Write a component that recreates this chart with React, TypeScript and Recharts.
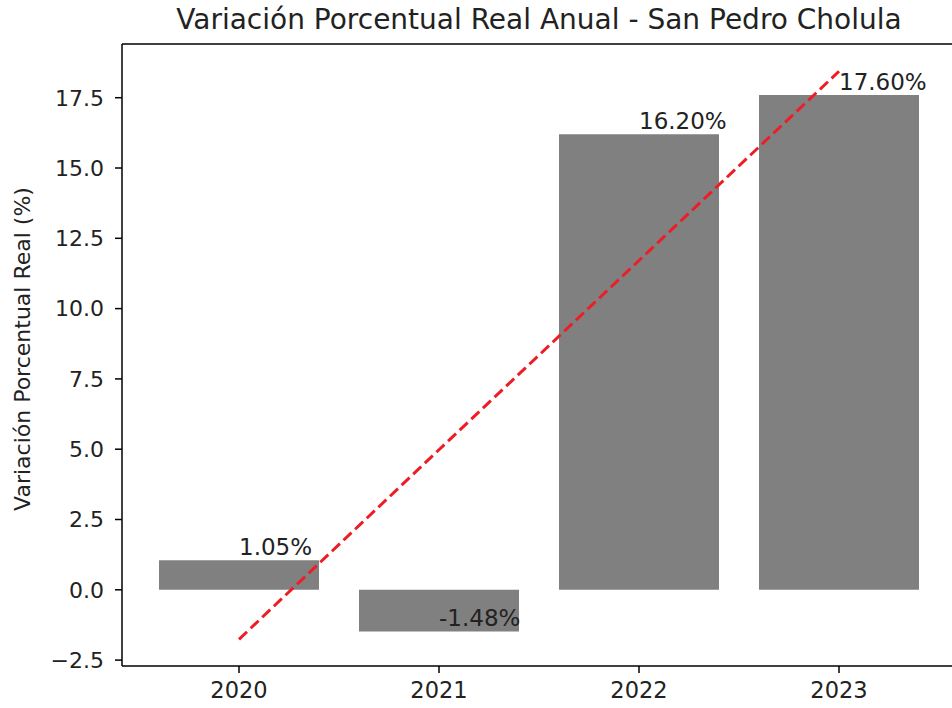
import React from "react";
import {
  ComposedChart,
  Bar,
  Line,
  XAxis,
  YAxis,
  LabelList,
  ReferenceLine,
} from "recharts";

const years = ["2020", "2021", "2022", "2023"];
const variation = [1.05, -1.48, 16.2, 17.6];
// dashed red trend line at each year
const trend = [-1.76, 4.98, 11.71, 18.44];
const yTicks = [-2.5, 0, 2.5, 5, 7.5, 10, 12.5, 15, 17.5];

const Y_MIN = -2.71;
const Y_MAX = 19.41;

const data = years.map((year, i) => ({
  year,
  value: variation[i],
  trend: trend[i],
}));

const FONT = "'DejaVu Sans', sans-serif";
const TEXT = "#222";

const fmtTick = (v: number) => {
  const s = Math.abs(v).toFixed(1);
  return v < 0 ? "\u2212" + s : s;
};

const ValueLabel = (props: any) => {
  const { x, y, width, height, value } = props;
  const top = Math.min(y, y + height);
  const bottom = Math.max(y, y + height);
  const yy = value >= 0 ? top : bottom;
  return (
    <text
      x={x + width / 2}
      y={yy - 5}
      textAnchor="start"
      fontSize={23}
      fontFamily={FONT}
      fill={TEXT}
    >
      {value.toFixed(2)}%
    </text>
  );
};

export default function App() {
  return (
    <div
      style={{
        position: "absolute",
        left: 0,
        top: 0,
        width: 952,
        height: 708,
        overflow: "hidden",
        background: "#fff",
      }}
    >
      <ComposedChart
        width={960}
        height={708}
        data={data}
        margin={{ top: 44, right: 4, bottom: 0, left: 0 }}
      >
        <text
          x={539}
          y={29}
          textAnchor="middle"
          fontSize={28}
          fontFamily={FONT}
          fill={TEXT}
        >
          Variación Porcentual Real Anual - San Pedro Cholula
        </text>
        <text
          x={30}
          y={349}
          transform="rotate(-90 30 349)"
          textAnchor="middle"
          fontSize={22}
          fontFamily={FONT}
          fill={TEXT}
        >
          Variación Porcentual Real (%)
        </text>
        <XAxis
          dataKey="year"
          height={42}
          padding={{ left: 17, right: 17 }}
          axisLine={{ stroke: "#000", strokeWidth: 1.5 }}
          tickLine={{ stroke: "#000", strokeWidth: 1.5 }}
          tickSize={7}
          tick={{ fontSize: 22.5, fontFamily: FONT, fill: TEXT, dy: 7 }}
        />
        <YAxis
          width={122}
          type="number"
          domain={[Y_MIN, Y_MAX]}
          ticks={yTicks}
          allowDataOverflow
          tickFormatter={fmtTick}
          axisLine={{ stroke: "#000", strokeWidth: 1.5 }}
          tickLine={{ stroke: "#000", strokeWidth: 1.5 }}
          tickSize={7}
          tick={{ fontSize: 22, fontFamily: FONT, fill: TEXT, dx: -9 }}
        />
        <ReferenceLine y={Y_MAX} stroke="#000" strokeWidth={1.5} />
        <Bar dataKey="value" fill="#808080" barSize={160} isAnimationActive={false}>
          <LabelList dataKey="value" content={<ValueLabel />} />
        </Bar>
        <Line
          dataKey="trend"
          type="linear"
          stroke="#ee1c25"
          strokeWidth={3}
          strokeDasharray="11 5"
          dot={false}
          activeDot={false}
          isAnimationActive={false}
        />
      </ComposedChart>
    </div>
  );
}
